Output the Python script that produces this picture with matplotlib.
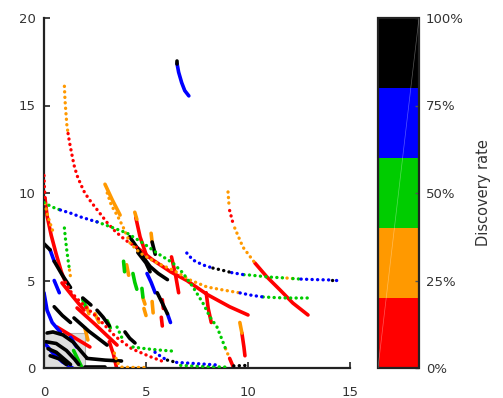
import matplotlib
matplotlib.use("Agg")
import matplotlib.pyplot as plt
from matplotlib.colors import ListedColormap, Normalize
from matplotlib.cm import ScalarMappable
from matplotlib.patches import Rectangle

# ---- discovery-rate classes -------------------------------------------------
rate_colors = ["#ff0000", "#ff9900", "#00cc00", "#0000ff", "#000000"]
rate_ticks = [0.0, 0.25, 0.5, 0.75, 1.0]
rate_tick_labels = ["0%", "25%", "50%", "75%", "100%"]
class_rate = {"red": 0.1, "orange": 0.3, "green": 0.5, "blue": 0.7, "black": 0.9}

x_ticks = [0, 5, 10, 15]
y_ticks = [0, 5, 10, 15, 20]

# ---- trajectories: sparse (dotted) tracks per rate class ---------------------
red_dotted = [
    [(1.18, 13.4), (1.25, 12.9), (1.35, 12.3), (1.47, 11.6), (1.62, 11.0), (1.8, 10.5),
     (2.0, 10.0), (2.3, 9.5), (2.7, 8.9), (3.1, 8.3), (3.5, 7.8), (4.0, 7.3), (4.6, 6.85)],
    [(0.0, 11.0), (0.02, 10.3), (0.05, 9.7)],
    [(1.05, 4.9), (1.35, 4.3), (1.8, 3.75), (2.6, 2.9), (3.5, 1.8), (4.3, 1.1),
     (5.2, 0.65), (6.0, 0.3)],
    [(9.1, 9.0), (9.26, 8.29)],
]
orange_dotted = [
    [(1.0, 16.1), (1.03, 15.3), (1.08, 14.5), (1.12, 13.9), (1.18, 13.4)],
    [(9.02, 10.06), (9.07, 9.31)],
    [(9.35, 8.0), (9.75, 6.91), (10.34, 6.0)],
    [(3.1, 10.0), (3.3, 9.3), (3.6, 8.7), (3.9, 8.0), (4.22, 7.14), (4.71, 6.57),
     (5.54, 6.0), (6.32, 5.6), (7.16, 5.03), (7.99, 4.63), (8.77, 4.46), (9.61, 4.29)],
    [(0.05, 9.4), (0.18, 8.7), (0.35, 8.1), (0.5, 7.6)],
    [(8.9, 1.1), (9.1, 0.55)],
    [(1.25, 5.6), (1.3, 5.2)],
    [(3.45, 0.85), (3.6, 0.3), (3.8, 0.05), (4.5, 0.03), (4.9, 0.03)],
    [(11.91, 5.14), (12.2, 5.11)],
]
green_dotted = [
    [(0.0, 9.45), (0.4, 9.2), (0.8, 9.03)],
    [(2.6, 8.35), (3.3, 8.05), (4.07, 7.71), (4.85, 7.14), (5.54, 6.57), (6.32, 6.0),
     (6.81, 5.43), (7.3, 4.63), (7.79, 3.71), (8.14, 2.91), (8.48, 2.34), (8.7, 1.7),
     (8.9, 1.1)],
    [(10.74, 4.06), (11.4, 4.02), (11.91, 4.0), (13.04, 4.0)],
    [(9.8, 5.33), (10.1, 5.31), (11.0, 5.2), (11.91, 5.14)],
    [(12.2, 5.11), (12.6, 5.08)],
    [(1.0, 8.0), (1.05, 7.4), (1.12, 6.7), (1.2, 6.0), (1.25, 5.6)],
    [(4.36, 1.2), (5.0, 1.1), (5.6, 1.03), (6.27, 0.97)],
    [(6.7, 0.15), (8.0, 0.08), (9.0, 0.05)],
    [(3.58, 2.34), (3.75, 1.9), (3.87, 1.6)],
]
blue_dotted = [
    [(0.8, 9.03), (1.3, 8.85), (1.8, 8.63), (2.3, 8.45), (2.6, 8.35)],
    [(7.0, 6.57), (7.3, 6.17), (7.79, 5.89), (8.28, 5.71)],
    [(9.2, 5.45), (9.8, 5.33)],
    [(12.6, 5.08), (13.3, 5.05), (14.1, 5.03)],
    [(14.3, 5.03), (14.5, 5.03)],
    [(9.61, 4.29), (10.2, 4.15), (10.74, 4.06)],
    [(5.44, 0.9), (5.8, 0.6), (6.05, 0.45)],
    [(6.5, 0.32), (7.5, 0.25), (8.4, 0.18)],
]
black_dotted = [
    [(8.28, 5.71), (8.7, 5.6), (9.2, 5.45)],
    [(14.1, 5.03), (14.3, 5.03)],
    [(6.05, 0.45), (6.5, 0.32)],
    [(9.3, 0.12), (10.0, 0.15)],
]

# ---- trajectories: dense (solid-looking) tracks per rate class ---------------
red_dense = [
    [(4.6, 6.85), (5.3, 6.2), (6.2, 5.5), (7.0, 5.0), (8.0, 4.2), (9.1, 3.5), (10.0, 3.03)],
    [(10.34, 6.0), (10.93, 5.2), (11.57, 4.46), (12.2, 3.71), (12.94, 3.03)],
    [(0.05, 9.7), (0.15, 8.7), (0.35, 7.6), (0.6, 6.5), (0.85, 5.5), (1.05, 4.9)],
    [(9.1, 0.55), (9.3, 0.0)],
    [(4.5, 8.6), (4.71, 7.49), (5.05, 6.34)],
    [(6.25, 6.35), (6.45, 5.3), (6.6, 4.3)],
    [(7.95, 4.3), (8.05, 3.4), (8.2, 2.6)],
    [(9.7, 2.0), (9.8, 1.2), (9.85, 0.7)],
    [(5.8, 3.9), (5.85, 3.4)],
    [(5.75, 2.9), (5.8, 2.4)],
    [(0.88, 4.86), (1.4, 4.1), (1.96, 3.31)],
    [(1.62, 3.43), (2.5, 2.5), (3.58, 1.31)],
    [(0.64, 2.34), (1.4, 1.8), (2.25, 1.2)],
    [(3.2, 1.5), (3.4, 0.8), (3.55, 0.05)],
]
orange_dense = [
    [(2.99, 10.5), (3.35, 9.6), (3.73, 8.74)],
    [(4.45, 8.9), (4.55, 8.5)],
    [(5.25, 7.7), (5.3, 7.2)],
    [(5.3, 3.8), (5.35, 3.15)],
    [(4.05, 5.9), (4.15, 5.3)],
    [(4.85, 4.0), (4.95, 3.65)],
    [(9.6, 2.6), (9.7, 2.0)],
    [(2.1, 3.5), (2.2, 3.1)],
    [(2.5, 3.1), (2.7, 2.6)],
    [(2.0, 2.3), (2.15, 1.6)],
    [(4.9, 3.4), (5.0, 3.0)],
]
green_dense = [
    [(4.36, 5.4), (4.45, 4.9), (4.55, 4.5)],
    [(4.8, 4.55), (4.85, 4.05)],
    [(1.9, 3.9), (2.05, 3.5)],
    [(3.1, 2.7), (3.25, 2.3)],
    [(3.9, 6.1), (3.95, 5.5)],
    [(1.45, 1.0), (1.7, 0.4), (1.85, 0.05)],
]
blue_dense = [
    [(6.52, 17.4), (6.6, 16.9), (6.75, 16.3), (6.9, 15.85), (7.1, 15.55)],
    [(0.3, 6.75), (0.5, 6.1)],
    [(0.0, 4.3), (0.15, 3.3), (0.4, 2.6), (0.8, 2.05)],
    [(0.5, 5.0), (0.75, 4.3)],
    [(5.05, 5.4), (5.25, 4.9), (5.45, 4.3)],
    [(6.05, 3.1), (6.2, 2.6)],
    [(0.05, 1.4), (0.4, 0.9), (0.9, 0.35), (1.4, 0.0)],
    [(1.3, 1.75), (1.6, 1.2)],
]
black_dense = [
    [(6.52, 17.55), (6.52, 17.4)],
    [(0.0, 7.1), (0.3, 6.75)],
    [(0.5, 6.1), (0.9, 5.3), (1.3, 4.6)],
    [(4.2, 7.5), (4.55, 6.9), (4.85, 6.35), (5.2, 5.8), (5.6, 5.4), (6.05, 5.05)],
    [(4.6, 6.6), (5.0, 6.0), (5.2, 5.5)],
    [(5.3, 7.2), (5.45, 6.5)],
    [(5.55, 4.3), (5.8, 3.7), (6.05, 3.1)],
    [(0.5, 3.5), (0.9, 3.0), (1.3, 2.6)],
    [(1.47, 2.86), (2.2, 2.1), (3.09, 1.31)],
    [(2.6, 3.3), (2.9, 2.9), (3.2, 2.4)],
    [(3.97, 2.06), (4.2, 1.7), (4.46, 1.43)],
    [(0.15, 2.0), (0.44, 2.06), (0.93, 1.89), (1.42, 1.49), (1.76, 1.03), (2.1, 0.57)],
    [(0.1, 1.5), (0.6, 1.4), (1.1, 1.0), (1.5, 0.5), (1.7, 0.2)],
    [(0.2, 1.1), (0.6, 0.9), (1.0, 0.5), (1.3, 0.2)],
    [(0.3, 0.7), (0.8, 0.5), (1.1, 0.2)],
    [(2.1, 0.55), (3.0, 0.45), (3.8, 0.4)],
    [(2.0, 0.05), (3.0, 0.05)],
    [(1.9, 4.0), (2.3, 3.6)],
]

dotted_tracks = {"red": red_dotted, "orange": orange_dotted, "green": green_dotted,
                 "blue": blue_dotted, "black": black_dotted}
dense_tracks = {"red": red_dense, "orange": orange_dense, "green": green_dense,
                "blue": blue_dense, "black": black_dense}

# ---- figure -----------------------------------------------------------------
W, H = 503, 398
fig = plt.figure(figsize=(W / 100, H / 100), dpi=100)
ax = fig.add_axes([44 / W, 1 - 368 / H, 306 / W, 350 / H])
cax = fig.add_axes([378 / W, 1 - 368 / H, 41 / W, 350 / H])

cmap = ListedColormap(rate_colors)
norm = Normalize(0, 1)
text_color = "#333333"
spine_color = "#222222"

ax.add_patch(Rectangle((0, 0), 2, 2, facecolor="#dedede", edgecolor="#b0b0b0",
                       linewidth=0.8, zorder=0))

for name, tracks in dense_tracks.items():
    c = cmap(norm(class_rate[name]))
    for pts in tracks:
        xs, ys = zip(*pts)
        ax.plot(xs, ys, color=c, lw=2.6, solid_capstyle="round",
                solid_joinstyle="round", zorder=2)

for name, tracks in dotted_tracks.items():
    c = cmap(norm(class_rate[name]))
    for pts in tracks:
        xs, ys = zip(*pts)
        ax.plot(xs, ys, color=c, lw=2.4, linestyle=(0, (0.05, 1.6)),
                dash_capstyle="round", zorder=3)

ax.set_xlim(0, 15)
ax.set_ylim(0, 20)
ax.set_xticks(x_ticks)
ax.set_yticks(y_ticks)
for s in ("top", "right"):
    ax.spines[s].set_visible(False)
for s in ("left", "bottom"):
    ax.spines[s].set_color(spine_color)
    ax.spines[s].set_linewidth(1.6)
ax.tick_params(axis="both", direction="in", length=4, width=1.2, color=spine_color,
               labelsize=9.5, labelcolor=text_color)
ax.tick_params(axis="x", pad=13)
ax.tick_params(axis="y", pad=6)

# ---- colour bar ---------------------------------------------------------------
cb = fig.colorbar(ScalarMappable(norm=norm, cmap=cmap), cax=cax)
cb.set_ticks(rate_ticks)
cb.set_ticklabels(rate_tick_labels)
cb.outline.set_edgecolor(spine_color)
cb.outline.set_linewidth(1.6)
cax.tick_params(direction="in", length=3, width=1, color="#555555",
                labelsize=9.5, labelcolor=text_color, pad=5)
cax.plot([0, 1], [0, 1], transform=cax.transAxes, color="white", lw=0.5,
         alpha=0.35, zorder=5)
cb.set_label("Discovery rate", fontsize=10.5, color=text_color, labelpad=9)

fig.savefig("out.png", dpi=100)
